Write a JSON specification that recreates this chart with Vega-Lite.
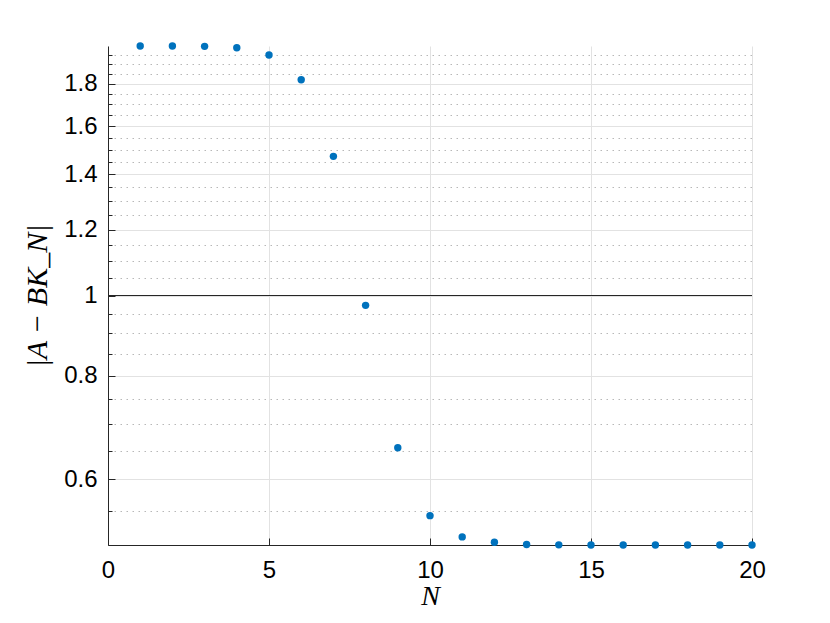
{
  "$schema": "https://vega.github.io/schema/vega-lite/v6.json",
  "width": 644,
  "height": 499,
  "autosize": {"type": "none"},
  "padding": {"left": 108, "top": 46, "right": 78, "bottom": 78},
  "background": "white",
  "config": {
    "view": {"stroke": null},
    "axis": {
      "domainColor": "#262626",
      "domainWidth": 1,
      "tickColor": "#262626",
      "labelColor": "#000000",
      "labelFont": "Liberation Sans",
      "labelFontSize": 24,
      "titleFont": "Liberation Serif",
      "titleFontStyle": "italic",
      "titleFontWeight": "normal",
      "titleFontSize": 22,
      "titleColor": "#000000",
      "gridColor": "#e2e2e2",
      "gridWidth": 1
    }
  },
  "resolve": {"axis": {"y": "independent"}},
  "layer": [
    {
      "data": {
        "values": [
          {"N": 1, "v": 2.0},
          {"N": 2, "v": 2.0},
          {"N": 3, "v": 1.998},
          {"N": 4, "v": 1.99},
          {"N": 5, "v": 1.951},
          {"N": 6, "v": 1.821},
          {"N": 7, "v": 1.472},
          {"N": 8, "v": 0.973},
          {"N": 9, "v": 0.655},
          {"N": 10, "v": 0.5425},
          {"N": 11, "v": 0.5114},
          {"N": 12, "v": 0.5039},
          {"N": 13, "v": 0.5006},
          {"N": 14, "v": 0.5002},
          {"N": 15, "v": 0.5001},
          {"N": 16, "v": 0.5},
          {"N": 17, "v": 0.5},
          {"N": 18, "v": 0.5},
          {"N": 19, "v": 0.5},
          {"N": 20, "v": 0.5}
        ]
      },
      "mark": {"type": "point", "filled": true, "size": 55, "color": "#0072BD", "opacity": 1, "clip": false},
      "encoding": {
        "x": {
          "field": "N",
          "type": "quantitative",
          "scale": {"domain": [0, 20], "nice": false},
          "axis": {
            "values": [0, 5, 10, 15, 20],
            "format": "d",
            "tickSize": -7,
            "labelPadding": 20,
            "labelFlush": false,
            "grid": true,
            "title": "N",
            "titleFontSize": 28,
            "titlePadding": 0
          }
        },
        "y": {
          "field": "v",
          "type": "quantitative",
          "scale": {"type": "log", "domain": [0.5, 2.0], "nice": false},
          "axis": {
            "orient": "left",
            "values": [0.6, 0.8, 1, 1.2, 1.4, 1.6, 1.8],
            "format": "~g",
            "tickSize": -7,
            "labelPadding": 18,
            "grid": true,
            "title": "|A − BK_N|",
            "titleFontSize": 30,
            "titlePadding": 11
          }
        }
      }
    },
    {
      "data": {"values": [{"v": 1}]},
      "mark": {"type": "rule", "color": "#262626", "strokeWidth": 1},
      "encoding": {
        "y": {
          "field": "v",
          "type": "quantitative",
          "axis": {
            "orient": "left",
            "values": [0.55, 0.65, 0.7, 0.75, 0.85, 0.9, 0.95, 1.05, 1.1, 1.15, 1.25, 1.3, 1.35, 1.45, 1.5, 1.55, 1.65, 1.7, 1.75, 1.85, 1.9, 1.95],
            "labels": false,
            "domain": false,
            "tickSize": -4,
            "grid": true,
            "gridDash": [1.5, 4.5],
            "gridColor": "#b8b8b8",
            "title": null
          }
        }
      }
    }
  ]
}
